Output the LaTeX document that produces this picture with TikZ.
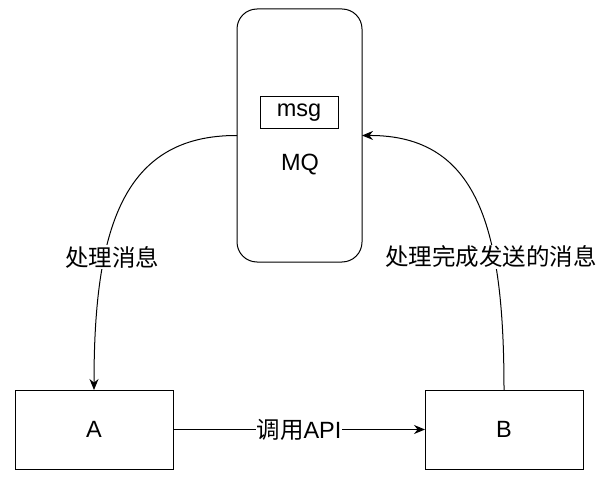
\documentclass[tikz,border=0pt]{standalone}
\usepackage{fontspec}
\setmainfont{Liberation Sans}
\newfontfamily\cjk{Noto Sans CJK SC}
\usetikzlibrary{arrows.meta}
\begin{document}
\begin{tikzpicture}[x=1pt,y=-1pt,
  every node/.style={font=\fontsize{23.5}{28}\selectfont},
  box/.style={draw, line width=1pt, inner sep=0pt, outer sep=0pt},
  arr/.style={line width=1pt, -{Stealth[length=11pt,width=9pt]}},
  lbl/.style={fill=white, inner sep=1pt}]
\useasboundingbox (0,0) rectangle (607,489);
\node[box, rounded corners=20pt, minimum width=125pt, minimum height=253pt] (mq) at (299.5,135.5) {};
\node[box, minimum width=78pt, minimum height=32pt] (msg) at (299,113) {msg};
\node (mqt) at (300,165) {MQ};
\node[box, minimum width=158pt, minimum height=79pt] (a) at (94,429.5) {A};
\node[box, minimum width=158pt, minimum height=79pt] (b) at (504,429.5) {B};
\draw[arr] (mq.west) .. controls (122,135) and (94,230) .. (a.north);
\draw[arr] (b.north) .. controls (504,230) and (479,135) .. (mq.east);
\node[lbl] (l1) at (112,257) {\cjk 处理消息};
\node[lbl] (l2) at (491,257) {\cjk 处理完成发送的消息};
\draw[arr] (a.east) -- node[lbl] (l3) {{\cjk 调用}API} (b.west);
\end{tikzpicture}
\end{document}
